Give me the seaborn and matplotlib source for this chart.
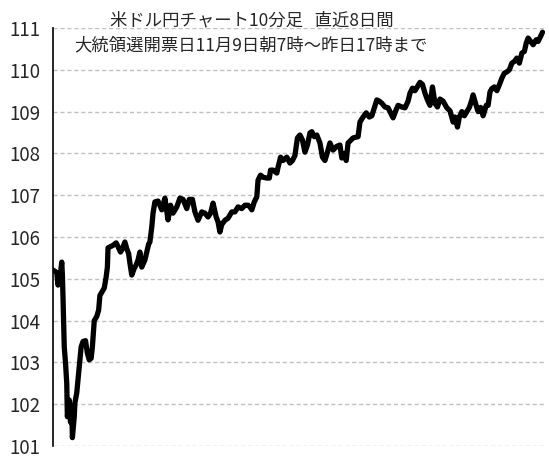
import numpy as np
import pandas as pd
import matplotlib
matplotlib.use("Agg")
import matplotlib.pyplot as plt
import seaborn as sns

# USD/JPY 10-minute bars (x = bar index)
bar_no = [0, 6, 8, 11, 14, 15, 16, 18, 20, 22, 23, 26, 28, 30, 31, 34, 35, 38,
          40, 43, 45, 48, 52, 55, 58, 61, 63, 66, 70, 73, 75, 79, 82, 85, 87, 88,
          92, 96, 101, 104, 108, 111, 115, 118, 121, 123, 126, 130, 133, 136,
          139, 142, 144, 147, 150, 153, 155,
          158, 160, 163, 168, 174, 179, 184, 188, 192, 198, 203, 208, 214, 218,
          223, 227, 232, 238, 243, 248, 252, 256, 261, 264, 267, 270, 275, 280,
          286, 291, 296, 302, 307, 312,
          315, 318, 322, 326, 328, 332, 336, 342, 346, 348, 352, 358, 360, 364,
          368, 374, 379, 383, 387, 391, 395, 399, 403, 407, 411, 414, 418, 422,
          427, 431, 435, 439, 443, 448, 454, 459, 462, 466, 469, 472,
          480, 488, 491, 496, 501, 506, 510, 514, 518, 522, 526, 531, 536, 540,
          544, 549, 552, 558, 563, 568, 571, 575, 579, 583, 587, 591, 595, 599,
          603, 607, 611, 615, 619,
          624, 630, 635, 640, 643, 647, 650, 654, 658, 662, 666, 670, 672, 677,
          680, 684, 688, 693, 696, 699, 702, 706, 710, 715, 718, 722, 726, 730,
          734, 738, 742, 746, 750, 754, 757, 760, 764, 768, 773, 776, 780, 783]
usd_jpy = [105.21, 105.15, 104.85, 105.00, 105.40, 105.10, 104.56, 103.37,
           102.99, 102.50, 101.70, 102.10, 101.57, 101.95, 101.20, 101.70,
           102.03, 102.27, 102.58, 103.06, 103.37, 103.50, 103.52, 103.22,
           103.06, 103.10, 103.37, 104.00, 104.10, 104.25, 104.60, 104.70,
           104.78, 105.04, 105.28, 105.74, 105.77, 105.80, 105.86, 105.77,
           105.64, 105.72, 105.88, 105.72, 105.60, 105.38, 105.09, 105.25,
           105.33, 105.45, 105.64, 105.28, 105.35, 105.45, 105.64, 105.83,
           105.88,
           106.24, 106.57, 106.84, 106.86, 106.65, 106.93, 106.41, 106.76,
           106.57, 106.72, 106.93, 106.90, 106.68, 106.90, 106.90, 106.60,
           106.40, 106.60, 106.57, 106.48, 106.57, 106.81, 106.48, 106.36,
           106.12, 106.30, 106.40, 106.45, 106.60, 106.60, 106.72, 106.68,
           106.76, 106.76,
           106.72, 106.65, 106.84, 106.96, 107.36, 107.48, 107.43, 107.41,
           107.41, 107.60, 107.60, 107.53, 107.67, 107.91, 107.83, 107.91,
           107.77, 107.83, 107.95, 108.37, 108.44, 108.32, 108.03, 108.20,
           108.49, 108.52, 108.40, 108.44, 108.25, 107.91, 107.83, 108.03,
           108.25, 108.08, 108.17, 108.20, 107.89, 108.00, 107.83, 108.25,
           108.37, 108.40, 108.75, 108.87, 108.97, 108.87, 108.90, 109.09,
           109.28, 109.25, 109.20, 109.11, 109.09, 108.97, 108.85, 109.05,
           109.15, 109.11, 109.09, 109.25, 109.44, 109.56, 109.50, 109.60,
           109.70, 109.65, 109.44, 109.28, 109.15, 109.59, 109.20, 109.11,
           109.30,
           109.25, 109.09, 109.02, 108.75, 108.87, 108.63, 108.87, 109.00,
           108.90, 109.00, 109.10, 109.28, 109.40, 109.14, 109.00, 109.10,
           108.90, 109.15, 109.15, 109.47, 109.55, 109.59, 109.50, 109.68,
           109.80, 109.92, 109.95, 110.00, 110.16, 110.20, 110.28, 110.16,
           110.40, 110.44, 110.64, 110.76, 110.68, 110.60, 110.72, 110.68,
           110.80, 110.90]
y_ticks = list(range(101, 112))
title_lines = ["米ドル円チャート10分足   直近8日間",
               "大統領選開票日11月9日朝7時～昨日17時まで"]

n = min(len(bar_no), len(usd_jpy))
df = pd.DataFrame({"bar": bar_no[:n], "rate": usd_jpy[:n]})

sns.set_style("white")
plt.rcParams["font.family"] = ["Noto Sans CJK JP", "DejaVu Sans"]

fig = plt.figure(figsize=(5.49, 4.66), dpi=100)
ax = fig.add_axes([53 / 549, 1 - 446 / 466, 492 / 549, 418 / 466])

sns.lineplot(data=df, x="bar", y="rate", color="black", linewidth=3.8, ax=ax)

ax.set_ylim(101, 111)
ax.set_xlim(0, 787)
ax.set_yticks(y_ticks)
ax.set_yticklabels([str(t) for t in y_ticks], fontsize=13.5)
ax.set_xticks([])
ax.set_xlabel("")
ax.set_ylabel("")
ax.grid(axis="y", color="#c0c0c0", linestyle=(0, (3, 2)), linewidth=1)
ax.tick_params(axis="y", direction="in", length=5, width=1.2, color="black", pad=9)
for side in ["top", "right", "bottom"]:
    ax.spines[side].set_visible(False)
ax.spines["left"].set_color("black")
ax.spines["left"].set_linewidth(1.2)

fig.text(252 / 549, 1 - 20 / 466, title_lines[0], ha="center", va="center", fontsize=12.5)
fig.text(251 / 549, 1 - 45 / 466, title_lines[1], ha="center", va="center", fontsize=12.5)

fig.savefig("out.png", dpi=100)
